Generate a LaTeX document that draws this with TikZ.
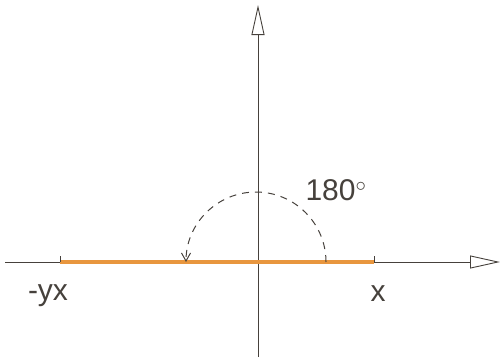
\documentclass[tikz,border=0pt]{standalone}
\usepackage{fontspec}
\setmainfont{Liberation Sans}
\usetikzlibrary{arrows.meta,positioning}
\definecolor{segorange}{RGB}{232,150,62}
\definecolor{pencil}{RGB}{70,65,60}

\begin{document}
\begin{tikzpicture}[
    x=1pt, y=1pt,
    axis/.style={draw=pencil, line width=0.9pt, -{Triangle[open, length=30pt, width=13pt, line width=0.9pt]}},
    seg/.style={draw=segorange, line width=4.5pt},
    tick/.style={draw=pencil, line width=1pt},
    turn/.style={draw=pencil, line width=1pt, dashed, dash pattern=on 7pt off 6pt, -{Straight Barb[length=8pt, width=9pt]}},
    lbl/.style={text=pencil, font=\fontsize{30}{32}\selectfont, inner sep=0pt}
]
\useasboundingbox (0,0) rectangle (502,360);
% axes
\coordinate (west) at (5,98);
\coordinate (east) at (500,98);
\coordinate (south) at (258,3);
\coordinate (north) at (258,355);
\coordinate (origin) at (258,98);
\draw[axis] (west) -- (east);
\draw[axis] (south) -- (north);
% orange segment with end ticks
\coordinate (left) at (60,98);
\coordinate (right) at (374,98);
\draw[seg] (left) -- (right);
\draw[tick] (left) -- ++(0,6);
\draw[tick] (right) -- ++(0,6);
% half turn
\coordinate (start) at (326,98);
\draw[turn] (start) arc[start angle=0, end angle=180, radius=70];
% labels
\node[lbl] (angle) at (336,170) {180$^\circ$};
\node[lbl] (neg) at (48,64) {-yx};
\node[lbl] (pos) at (378,66) {x};
\end{tikzpicture}
\end{document}
